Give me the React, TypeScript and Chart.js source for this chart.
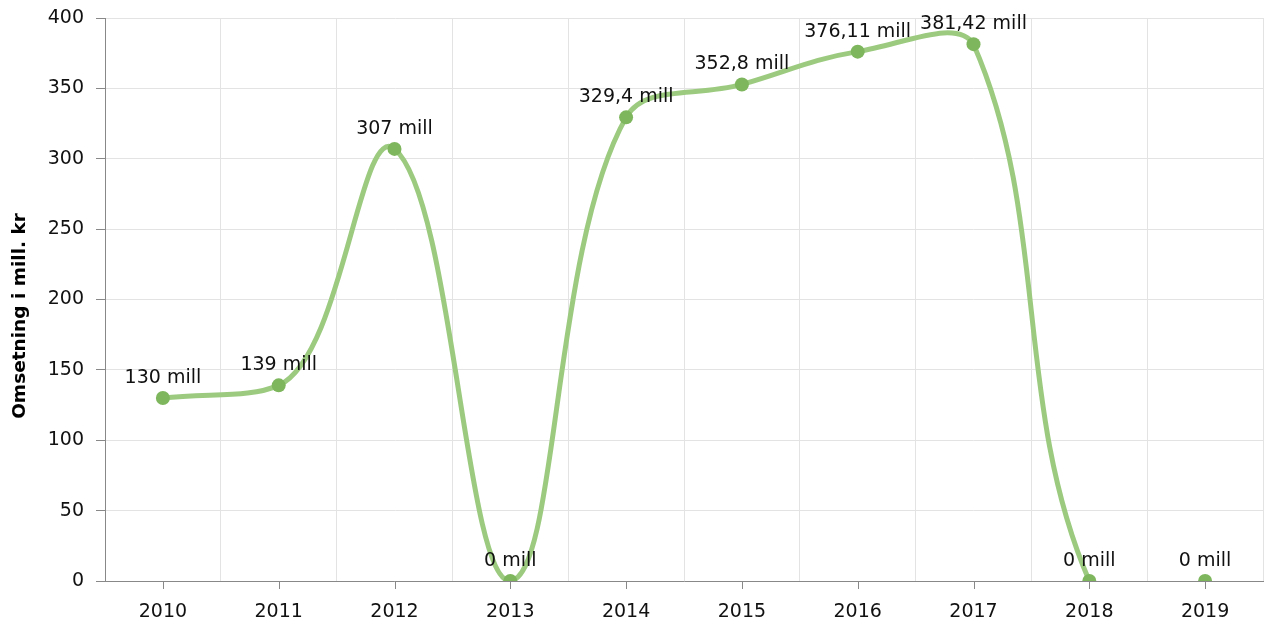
import React, { useEffect, useRef } from "react";
import { Chart, registerables } from "chart.js";

Chart.register(...registerables);

const years = ["2010", "2011", "2012", "2013", "2014", "2015", "2016", "2017", "2018", "2019"];
const revenue = [130, 139, 307, 0, 329.4, 352.8, 376.11, 381.42, 0, 0];
const valueLabels = ["130 mill", "139 mill", "307 mill", "0 mill", "329,4 mill", "352,8 mill", "376,11 mill", "381,42 mill", "0 mill", "0 mill"];
const yTitle = "Omsetning i mill. kr";

const FONT = "'DejaVu Sans', Verdana, sans-serif";
const FS = 19;
const TENSION = 0.4;

// Cardinal spline control points; a control that would pass beyond a neighbour is flattened
const splinePlugin = {
  id: "spline",
  beforeDatasetDraw(chart: any, args: any) {
    const meta = chart.getDatasetMeta(args.index);
    const pts = meta.data;
    const n = pts.length;
    const area = chart.chartArea;
    for (let i = 0; i < n; i++) {
      const p = pts[i];
      const a = pts[i - 1] || p;
      const b = pts[i + 1] || p;
      const d01 = Math.hypot(p.x - a.x, p.y - a.y);
      const d12 = Math.hypot(b.x - p.x, b.y - p.y);
      const tot = d01 + d12;
      const s01 = tot ? d01 / tot : 0;
      const s12 = tot ? d12 / tot : 0;
      const fa = TENSION * s01, fb = TENSION * s12;
      const vx = b.x - a.x, vy = b.y - a.y;
      const c1x = -fa * vx, c2x = fb * vx;
      let c1y = -fa * vy, c2y = fb * vy;
      let slope = vx ? vy / vx : 0;
      if (i > 0 && c1x !== 0) {
        const dPrev = a.y - p.y;
        if (c1y !== 0 && Math.sign(c1y) === Math.sign(dPrev) && Math.abs(c1y) > Math.abs(dPrev)) {
          slope = dPrev / c1x;
        }
      }
      if (i < n - 1 && c2x !== 0) {
        const dNext = b.y - p.y;
        const ny = slope * c2x;
        if (ny !== 0 && Math.sign(ny) === Math.sign(dNext) && Math.abs(ny) > Math.abs(dNext)) {
          slope = dNext / c2x;
        }
      }
      c1y = slope * c1x;
      c2y = slope * c2x;
      const cl = (v: number, lo: number, hi: number) => Math.max(lo, Math.min(hi, v));
      p.cp1x = cl(p.x + c1x, area.left, area.right);
      p.cp1y = cl(p.y + c1y, area.top, area.bottom);
      p.cp2x = cl(p.x + c2x, area.left, area.right);
      p.cp2y = cl(p.y + c2y, area.top, area.bottom);
    }
    if (meta.dataset) meta.dataset._pointsUpdated = true;
  },
};

const labelPlugin = {
  id: "valueLabels",
  afterDatasetsDraw(chart: any) {
    const ctx = chart.ctx;
    const meta = chart.getDatasetMeta(0);
    ctx.save();
    ctx.font = `${FS}px ${FONT}`;
    ctx.fillStyle = "#111";
    ctx.textAlign = "center";
    ctx.textBaseline = "alphabetic";
    meta.data.forEach((pt: any, i: number) => {
      ctx.fillText(valueLabels[i], pt.x, pt.y - 15);
    });
    ctx.restore();
  },
};

const axisExtrasPlugin = {
  id: "axisExtras",
  afterDraw(chart: any) {
    const ctx = chart.ctx;
    const xs = chart.scales.x;
    ctx.save();
    ctx.strokeStyle = "#888";
    ctx.lineWidth = 1;
    years.forEach((_, i) => {
      const x = Math.round(xs.getPixelForValue(i)) + 0.5;
      ctx.beginPath();
      ctx.moveTo(x, xs.top);
      ctx.lineTo(x, xs.top + 8);
      ctx.stroke();
    });
    ctx.translate(20.5, 316);
    ctx.rotate(-Math.PI / 2);
    ctx.font = `bold 18.5px ${FONT}`;
    ctx.fillStyle = "#000";
    ctx.textAlign = "center";
    ctx.textBaseline = "middle";
    ctx.fillText(yTitle, 0, 0);
    ctx.restore();
  },
};

export default function App() {
  const ref = useRef<HTMLCanvasElement>(null);
  useEffect(() => {
    const chart = new Chart(ref.current!, {
      type: "line",
      data: {
        labels: years,
        datasets: [
          {
            data: revenue,
            borderColor: "#9ccb80",
            borderWidth: 5,
            tension: TENSION,
            pointRadius: 7,
            pointBackgroundColor: "#7db65c",
            pointBorderColor: "#7db65c",
            pointBorderWidth: 0,
            fill: false,
            segment: {
              borderColor: (c: any) => (c.p0DataIndex === 8 ? "rgba(0,0,0,0)" : undefined),
            },
          },
        ],
      },
      options: {
        animation: false,
        responsive: true,
        maintainAspectRatio: false,
        layout: { autoPadding: false, padding: { top: 18, right: 4, left: 0, bottom: 0 } },
        plugins: { legend: { display: false }, tooltip: { enabled: false } },
        scales: {
          x: {
            offset: true,
            grid: { offset: true, color: "#e3e3e3", drawTicks: false },
            border: { color: "#888" },
            ticks: { font: { family: FONT, size: FS }, color: "#111", padding: 20 },
            afterFit: (s: any) => { s.height = 44; s.paddingLeft = 0; s.paddingRight = 0; },
          },
          y: {
            min: 0,
            max: 400,
            ticks: { stepSize: 50, font: { family: FONT, size: FS }, color: "#111", padding: 12 },
            grid: { color: "#e3e3e3", tickLength: 9, tickColor: "#888" },
            border: { color: "#888" },
            afterFit: (s: any) => { s.width = 105; s.paddingTop = 0; s.paddingBottom = 0; },
          },
        },
      },
      plugins: [splinePlugin, labelPlugin, axisExtrasPlugin],
    });
    return () => chart.destroy();
  }, []);
  return (
    <div style={{ position: "fixed", left: 0, top: 0, width: 1267, height: 625 }}>
      <canvas ref={ref} />
    </div>
  );
}
